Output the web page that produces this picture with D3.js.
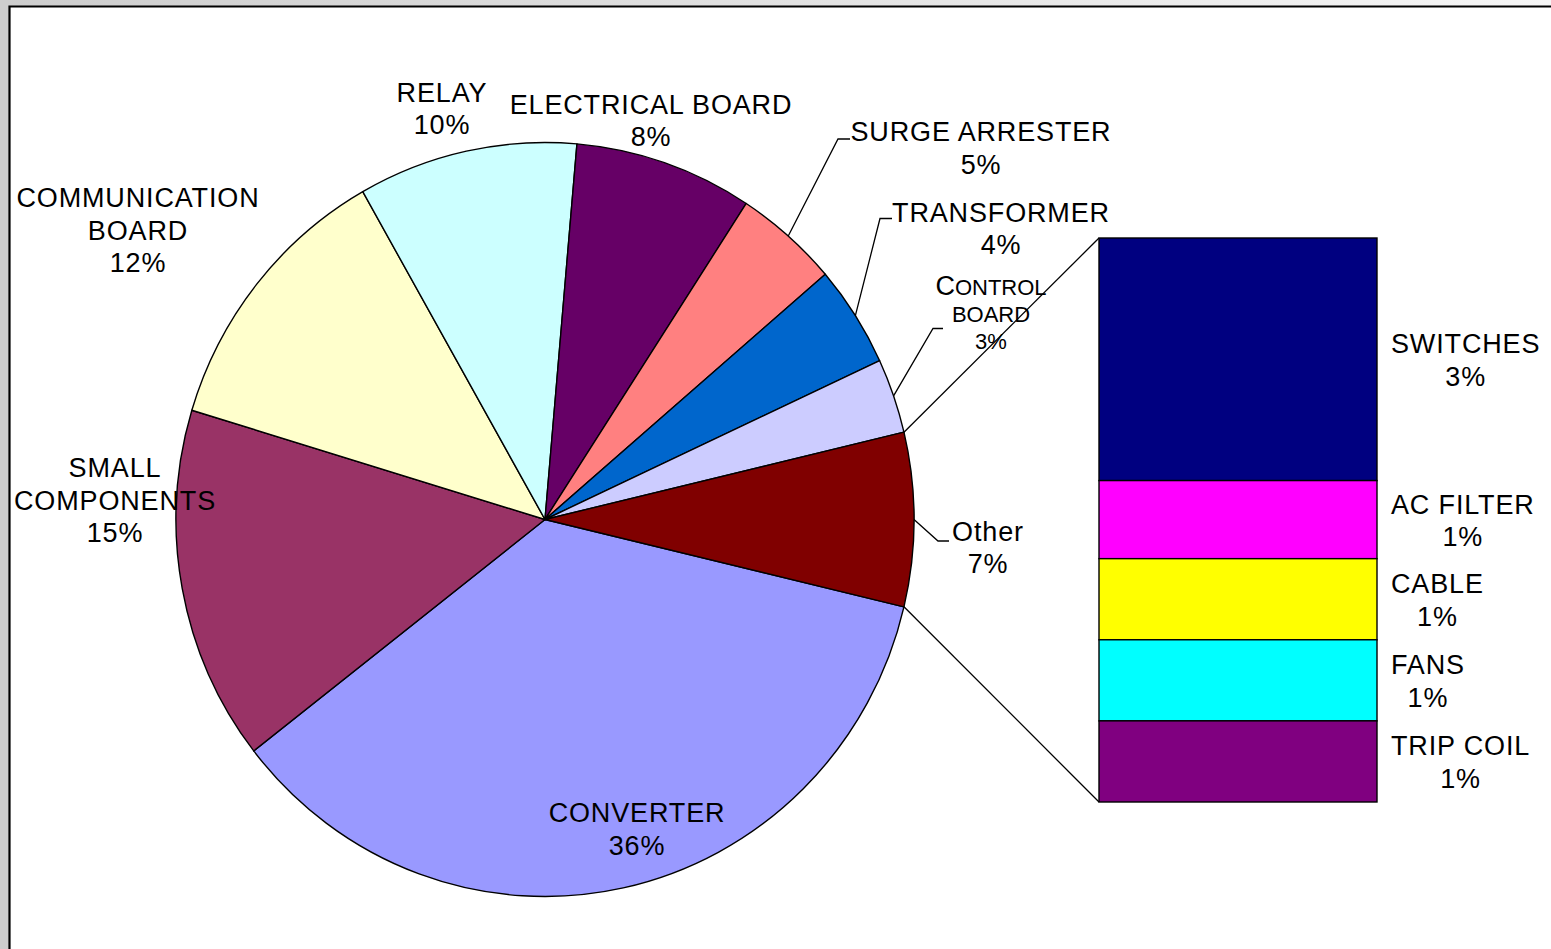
<!DOCTYPE html>
<html>
<head>
<meta charset="utf-8">
<script src="https://cdn.jsdelivr.net/npm/d3@7"></script>
<style>
  html, body { margin: 0; padding: 0; background: #ffffff; }
  svg { display: block; }
  text { font-family: "Liberation Sans", Arial, sans-serif; fill: #000; }
</style>
</head>
<body>
<svg id="chart" width="1551" height="949"></svg>
<script>
// Failure share by component (percent of all failures)
const sliceNames  = ["CONVERTER", "SMALL COMPONENTS", "COMMUNICATION BOARD", "RELAY",
                     "ELECTRICAL BOARD", "SURGE ARRESTER", "TRANSFORMER", "CONTROL BOARD"];
const sliceValues = [35.76, 15.2, 12.1, 9.6, 7.8, 4.55, 4.35, 3.2];
const sliceColors = ["#9999FF", "#993366", "#FFFFCC", "#CCFFFF",
                     "#660066", "#FF8080", "#0066CC", "#CCCCFF"];

// Components grouped into "Other", broken out in the stacked bar
const otherName   = "Other";
const otherColor  = "#800000";
const barNames    = ["SWITCHES", "AC FILTER", "CABLE", "FANS", "TRIP COIL"];
const barValues   = [3.2, 1.03, 1.07, 1.07, 1.07];
const barColors   = ["#000080", "#FF00FF", "#FFFF00", "#00FFFF", "#800080"];

// Lines of each pie label (name part); percentage is appended as last line
const sliceLabelLines = [["CONVERTER"], ["SMALL", "COMPONENTS"], ["COMMUNICATION", "BOARD"],
                         ["RELAY"], ["ELECTRICAL BOARD"], ["SURGE ARRESTER"], ["TRANSFORMER"],
                         ["CONTROL", "BOARD"]];

const svg = d3.select("#chart");
const W = 1551, H = 949;

// ---- chart frame -------------------------------------------------------
const defs = svg.append("defs");
const grad = defs.append("linearGradient").attr("id", "topStrip")
  .attr("x1", "0%").attr("x2", "100%");
grad.append("stop").attr("offset", "0%").attr("stop-color", "#cdcdcd");
grad.append("stop").attr("offset", "100%").attr("stop-color", "#f6f6f6");

svg.append("rect").attr("x", 0).attr("y", 0).attr("width", W).attr("height", 6)
  .attr("fill", "url(#topStrip)");
svg.append("rect").attr("x", 0).attr("y", 0).attr("width", 9).attr("height", H)
  .attr("fill", "#cdcdcd");
svg.append("path")
  .attr("d", `M9.5,${H} V6.5 H${W}`)
  .attr("fill", "none").attr("stroke", "#000").attr("stroke-width", 2.2);

// ---- pie geometry -------------------------------------------------------
const cx = 545, cy = 519.5, rx = 369, ry = 377;
const total = d3.sum(sliceValues) + d3.sum(barValues);
const otherValue = d3.sum(barValues);
const pct = v => Math.round(v / total * 100) + "%";

const pieData = sliceNames.map((n, i) => ({ name: n, value: sliceValues[i], color: sliceColors[i], lines: sliceLabelLines[i] }))
  .concat([{ name: otherName, value: otherValue, color: otherColor, lines: [otherName] }]);

// "Other" slice centred on the 3 o'clock direction
const otherHalf = otherValue / total * Math.PI;
const start = Math.PI / 2 + otherHalf;
const pie = d3.pie().sort(null).value(d => d.value)
  .startAngle(start).endAngle(start + 2 * Math.PI);
const arcs = pie(pieData);

const arc = d3.arc().innerRadius(0).outerRadius(rx);
const pieG = svg.append("g")
  .attr("transform", `translate(${cx},${cy}) scale(1,${ry / rx})`);
pieG.selectAll("path").data(arcs).join("path")
  .attr("d", arc)
  .attr("fill", d => d.data.color)
  .attr("stroke", "#000")
  .attr("stroke-width", 1.4)
  .attr("vector-effect", "non-scaling-stroke")
  .attr("stroke-linejoin", "round");

const norm = a => a % (2 * Math.PI);
const edgePoint = a => [cx + rx * Math.sin(a), cy - ry * Math.cos(a)];

// ---- stacked bar for "Other" ------------------------------------------------
const barX0 = 1099, barX1 = 1377;
const yBar = d3.scaleLinear().domain([0, otherValue]).range([238, 802]);
const stackStarts = d3.cumsum([0].concat(barValues.slice(0, -1)));
const barData = barNames.map((n, i) => ({
  name: n, value: barValues[i], color: barColors[i],
  y0: stackStarts[i], y1: stackStarts[i] + barValues[i]
}));

// connectors between the "Other" slice and the bar
const otherArc = arcs[arcs.length - 1];
const pTop = edgePoint(norm(otherArc.startAngle));
const pBot = edgePoint(norm(otherArc.endAngle));
svg.append("line").attr("x1", pTop[0]).attr("y1", pTop[1])
  .attr("x2", barX0).attr("y2", yBar(0))
  .attr("stroke", "#000").attr("stroke-width", 1.3);
svg.append("line").attr("x1", pBot[0]).attr("y1", pBot[1])
  .attr("x2", barX0).attr("y2", yBar(otherValue))
  .attr("stroke", "#000").attr("stroke-width", 1.3);

svg.append("g").selectAll("rect").data(barData).join("rect")
  .attr("x", barX0).attr("width", barX1 - barX0)
  .attr("y", d => yBar(d.y0)).attr("height", d => yBar(d.y1) - yBar(d.y0))
  .attr("fill", d => d.color)
  .attr("stroke", "#000").attr("stroke-width", 1.4);

// ---- labels -------------------------------------------------------------------
const FS = 27, LH = 32.5, LS = 0.85;

// label anchor: centre x and first baseline for each pie label
const pieLabelPos = {
  "CONVERTER": [637, 822],
  "SMALL COMPONENTS": [115, 477],
  "COMMUNICATION BOARD": [138, 207],
  "RELAY": [442, 101.5],
  "ELECTRICAL BOARD": [651, 113.5],
  "SURGE ARRESTER": [981, 141],
  "TRANSFORMER": [1001, 221.5],
  "CONTROL BOARD": [991, 295],
  "Other": [988, 540.5]
};
// leader lines: bend point and end point next to the label
const leaderPts = {
  "SURGE ARRESTER": [[838, 139], [850, 139]],
  "TRANSFORMER": [[880, 218.5], [892, 218.5]],
  "CONTROL BOARD": [[933, 328.5], [943, 328.5]],
  "Other": [[938, 541], [949, 541]]
};

const labelG = svg.append("g");
arcs.forEach(a => {
  const d = a.data;
  const lines = d.lines.concat([pct(d.value)]);
  const [x, y] = pieLabelPos[d.name];
  const small = d.name === "CONTROL BOARD";
  const lh = small ? 27 : LH;
  const t = labelG.append("text").attr("text-anchor", "middle")
    .attr("font-size", small ? 22 : FS)
    .attr("letter-spacing", small ? 0 : LS);
  lines.forEach((ln, i) => {
    const ts = t.append("tspan").attr("x", x).attr("y", y + i * lh);
    if (small && i === 0) {
      ts.append("tspan").attr("font-size", FS).text(ln[0]);
      ts.append("tspan").text(ln.slice(1));
    } else {
      ts.text(ln);
    }
  });
  if (leaderPts[d.name]) {
    const mid = norm((a.startAngle + a.endAngle) / 2);
    const p0 = edgePoint(mid);
    const [b, e] = leaderPts[d.name];
    labelG.append("path")
      .attr("d", d3.line()([p0, b, e]))
      .attr("fill", "none").attr("stroke", "#000").attr("stroke-width", 1.3);
  }
});

// bar labels: block starts right of bar, lines centred within block, block centred on segment
const barLabelLeft = 1391;
barData.forEach(d => {
  const yMid = (yBar(d.y0) + yBar(d.y1)) / 2;
  const t = svg.append("text").attr("font-size", FS).attr("text-anchor", "middle")
    .attr("letter-spacing", LS);
  const l1 = t.append("tspan").text(d.name);
  const l2 = t.append("tspan").text(pct(d.value));
  const w = Math.max(l1.node().getComputedTextLength(), l2.node().getComputedTextLength());
  const x = barLabelLeft + w / 2;
  l1.attr("x", x).attr("y", yMid - 6);
  l2.attr("x", x).attr("y", yMid - 6 + LH);
});
</script>
</body>
</html>
